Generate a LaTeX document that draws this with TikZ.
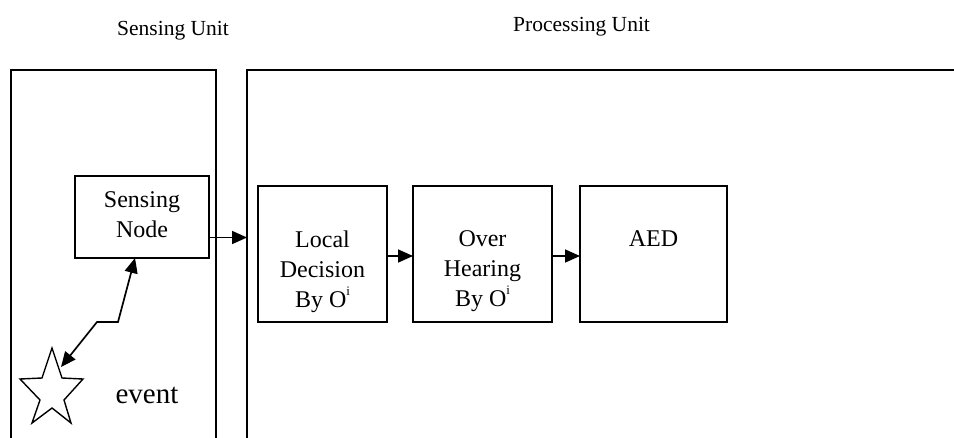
\documentclass[tikz,border=0pt]{standalone}
\usepackage{fontspec}
\setmainfont{Liberation Serif}
\usetikzlibrary{arrows.meta,calc}

% small raised index letter after O
\newcommand{\supidx}[1]{\raisebox{0.5em}{\fontsize{13}{13}\selectfont #1}}

\begin{document}
\begin{tikzpicture}[x=1pt,y=-1pt,
  unitframe/.style={draw,line width=2pt,outer sep=0pt,inner sep=0pt,anchor=north west},
  blockbox/.style={draw,line width=1.8pt,outer sep=0pt,inner sep=0pt,anchor=north west},
  blocktext/.style={inner sep=0pt,anchor=north,align=center,font=\fontsize{24}{30}\selectfont},
  titletext/.style={inner sep=0pt,anchor=base west,font=\fontsize{21.5}{26}\selectfont},
  flow/.style={line width=1.7pt,-{Triangle[length=15pt,width=13pt]}},
  link/.style={line width=1.7pt,{Triangle[length=15pt,width=13pt]}-{Triangle[length=15pt,width=13pt]}}
]
\useasboundingbox (0,0) rectangle (954,437);
\clip (0,0) rectangle (954,437);

% unit titles
\node[titletext] (sutitle) at (117,35) {Sensing Unit};
\node[titletext] (putitle) at (513,31) {Processing Unit};

% unit frames, open past the lower and right edges
\node[unitframe,minimum width=205,minimum height=400] (su) at (11,70) {};
\node[unitframe,minimum width=740,minimum height=400] (pu) at (247,70) {};

% sensing node
\node[blockbox,minimum width=134,minimum height=82] (sn) at (75,176) {};
\node[blocktext] (snt) at ([yshift=-15.7pt]sn.north) {Sensing\\Node};

% processing blocks
\node[blockbox,minimum width=129,minimum height=136] (ld) at (258,186) {};
\node[blockbox,minimum width=139,minimum height=136] (oh) at (413,186) {};
\node[blockbox,minimum width=147,minimum height=136] (aed) at (580,186) {};
\node[blocktext] (ldt) at ([yshift=-44.7pt]ld.north) {Local\\Decision\\By O\supidx{i}};
\node[blocktext] (oht) at ([yshift=-44.7pt]oh.north) {Over\\Hearing\\By O\supidx{i}};
\node[blocktext] (aedt) at ([yshift=-44.7pt]aed.north) {AED};

% event star
\draw[line width=1.4pt,line join=miter]
  (52,348) -- (62,378) -- (83,379) -- (64,400) -- (71,423) -- (52,408)
  -- (32,423) -- (40,400) -- (20,379) -- (42,378) -- cycle;
\coordinate (evtip) at (61,367);
\node[inner sep=0pt,anchor=base,font=\fontsize{29}{34}\selectfont] (ev) at (147,403) {event};

% connectors
\coordinate (snout) at ($(sn.south east)!0.25!(sn.north east)$);
\draw[flow] (snout) -- (snout -| pu.west);
\draw[flow] ([yshift=-2pt]ld.east) -- ([yshift=-2pt]oh.west);
\draw[flow] ([yshift=-2pt]oh.east) -- ([yshift=-2pt]aed.west);
\coordinate (sntip) at ([xshift=-7pt]sn.south);
\draw[link] (sntip) -- ++(-17,64) -- ++(-21,0) -- (evtip);
\end{tikzpicture}
\end{document}
